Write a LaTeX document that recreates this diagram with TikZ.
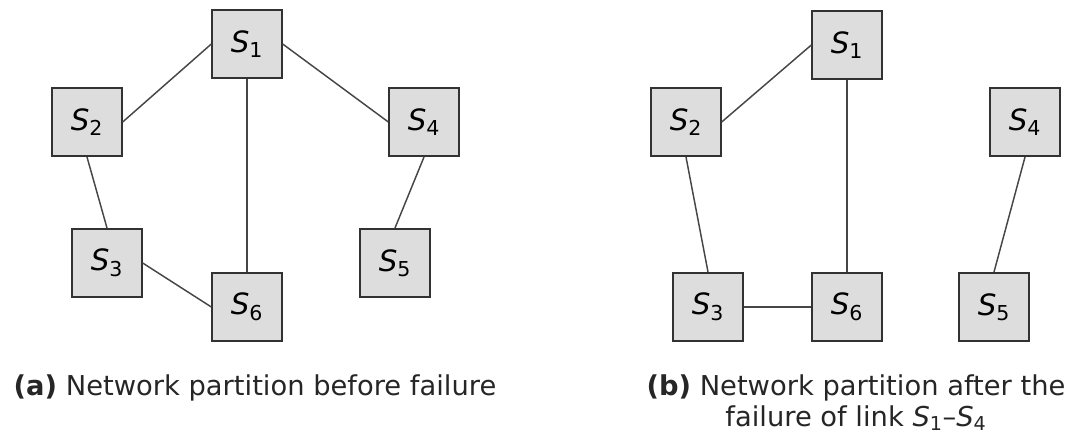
\documentclass[tikz,border=0pt]{standalone}
\usepackage{fontspec}
\setmainfont{DejaVu Sans}
\usetikzlibrary{positioning}

\definecolor{boxfill}{RGB}{221,221,221}
\definecolor{boxline}{RGB}{50,50,50}
\definecolor{linkgray}{RGB}{70,70,70}

\newcommand{\sname}[1]{\textit{S}\textsubscript{#1}}

\begin{document}
\begin{tikzpicture}[x=0.75pt, y=-0.75pt, line width=1.1pt,
  server node/.style={rectangle, draw=boxline, fill=boxfill, line width=1.5pt, minimum width=52pt, minimum height=51pt, inner sep=0pt, font=\fontsize{22}{24}\selectfont},
  caption/.style={inner sep=0pt, font=\fontsize{20.5}{23}\selectfont, align=center, text=black!85}]

        \useasboundingbox (0,0) rectangle (1073,438);

        % (a) before failure
        \node[server node] (a1) at (247,44) {\sname{1}};
        \node[server node] (a2) at (87,122) {\sname{2}};
        \node[server node] (a4) at (424,122) {\sname{4}};
        \node[server node] (a3) at (107,263) {\sname{3}};
        \node[server node] (a5) at (395,263) {\sname{5}};
        \node[server node] (a6) at (247,307) {\sname{6}};

        % (b) after failure
        \node[server node] (b1) at (847,45) {\sname{1}};
        \node[server node] (b2) at (686,122) {\sname{2}};
        \node[server node] (b4) at (1025,122) {\sname{4}};
        \node[server node] (b3) at (708,307) {\sname{3}};
        \node[server node] (b6) at (847,307) {\sname{6}};
        \node[server node] (b5) at (994,307) {\sname{5}};

        % Links
        \foreach \g in {a, b} {
            \draw[linkgray] (\g1.west) -- (\g2.east);
            \draw[linkgray] (\g1.south) -- (\g6.north);
            \draw[linkgray] (\g2.south) -- (\g3.north);
            \draw[linkgray] (\g3.east) -- (\g6.west);
            \draw[linkgray] (\g4.south) -- (\g5.north);
        }
        \draw[linkgray] (a1.east) -- (a4.west);

        % Captions
        \node[caption, anchor=base] (capa) at (255,395) {\textbf{(a)} Network partition before failure};
        \node[caption, anchor=north] (capb) at (856,374) {\textbf{(b)} Network partition after the\\ failure of link \sname{1}--\sname{4}};
    \end{tikzpicture}
\end{document}
